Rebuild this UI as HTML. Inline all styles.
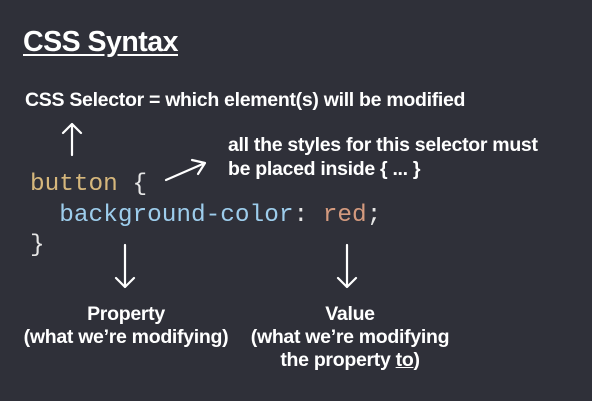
<!DOCTYPE html>
<html><head><meta charset="utf-8"><style>
html,body{margin:0;padding:0;}
body{width:592px;height:401px;background:#2f3039;position:relative;overflow:hidden;font-family:"Liberation Sans",sans-serif;color:#fff;}
.t{position:absolute;white-space:nowrap;font-weight:bold;}
.s{font-size:19.5px;letter-spacing:-0.3px;}
.c{position:absolute;white-space:pre;font-family:"Liberation Mono",monospace;font-size:24.4px;color:#e6e6e6;}
.ctr{text-align:center;transform:translateX(-50%);line-height:23px;}
</style></head><body>
<div class="t" style="left:23px;top:26px;font-size:28.5px;letter-spacing:-0.5px;text-decoration:underline;text-underline-offset:3px;">CSS Syntax</div>
<div class="t s" style="left:25px;top:89px;">CSS Selector = which element(s) will be modified</div>
<div class="t s" style="left:228px;top:133px;line-height:24px;">all the styles for this selector must<br>be placed inside { ... }</div>
<div class="c" style="left:30px;top:171px;"><span style="color:#d6b77c">button</span> {</div>
<div class="c" style="left:30px;top:202px;">  <span style="color:#9dcdec">background-color</span>: <span style="color:#d49a7e">red</span>;</div>
<div class="c" style="left:30px;top:232px;">}</div>
<div class="t s ctr" style="left:126px;top:303px;">Property<br>(what we’re modifying)</div>
<div class="t s ctr" style="left:350px;top:303px;">Value<br>(what we’re modifying<br>the property <u>to</u>)</div>
<svg width="592" height="401" style="position:absolute;left:0;top:0" fill="none" stroke="#fff" stroke-width="2.2" stroke-linecap="round" stroke-linejoin="round">
<path d="M72 155V124M63 133L72 124L81 133"/>
<path d="M166 180L205 163M192 160L205 163L198 174"/>
<path d="M125 245V287M116 278L125 287L134 278"/>
<path d="M347 245V287M338 278L347 287L356 278"/>
</svg>
</body></html>
